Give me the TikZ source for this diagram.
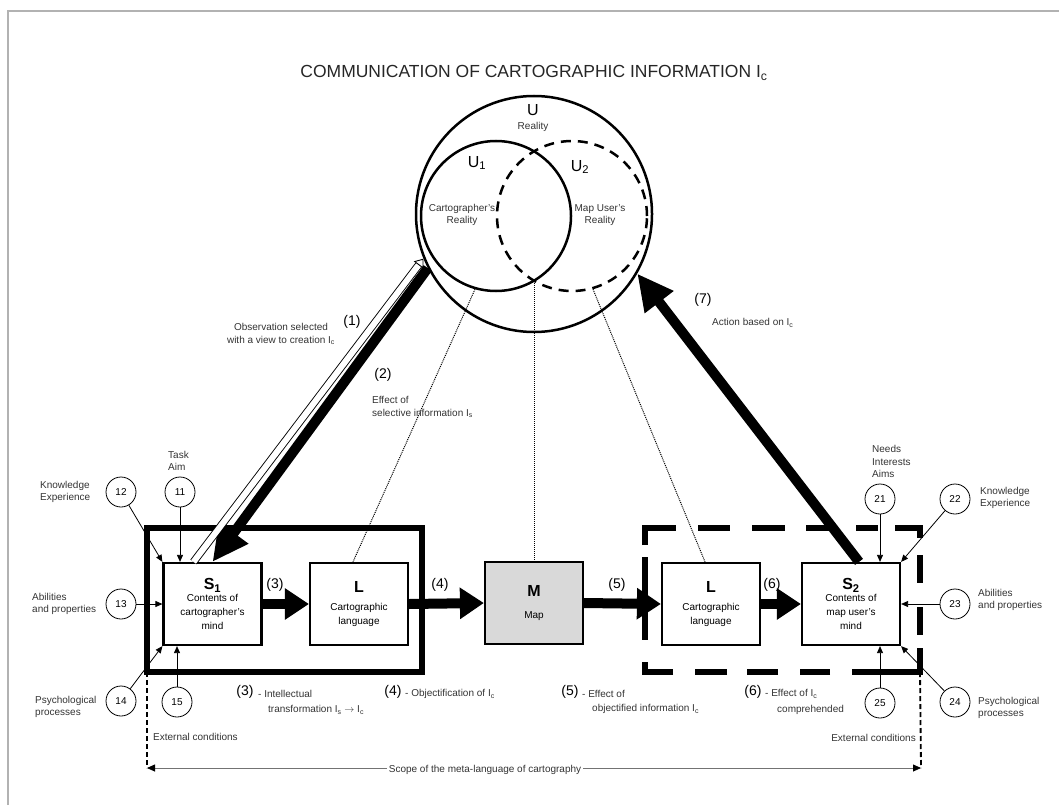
\documentclass[tikz,border=0pt]{standalone}
\usepackage{fontspec}
\setmainfont{Liberation Sans}
\usetikzlibrary{arrows.meta,fit,calc}
\begin{document}
\begin{tikzpicture}[x=1pt,y=-1pt,
  txt/.style={font=\fontsize{10}{12.5}\selectfont, text=black!80, inner sep=0},
  lbl/.style={font=\fontsize{14}{16}\selectfont, inner sep=0},
  box/.style={draw, line width=2.2pt, minimum width=98pt, minimum height=82pt, inner sep=0, align=center, font=\fontsize{10}{14}\selectfont},
  numc/.style={circle, draw, line width=0.8pt, minimum size=30pt, inner sep=0, font=\fontsize{10}{12}\selectfont},
  smallarr/.style={line width=0.8pt, -{Triangle[length=7pt,width=6pt]}},
  thickarr/.style={line width=10pt, -{Triangle[length=24pt,width=30pt]}},
  bigarr/.style={line width=10pt, -{Triangle[length=36pt,width=34pt]}},
  dotline/.style={densely dotted, line width=1pt},
  ring/.style={circle, draw, line width=2.5pt, inner sep=0},
  dseg/.style={line width=6pt}
]
\useasboundingbox (0,0) rectangle (1059,805);
% page frame
\draw[gray!60, line width=2pt] (8,805) -- (8,11) -- (1059,11);

% title
\node[font=\fontsize{17.5}{20}\selectfont, text=black!85] (title) at (534,73) {COMMUNICATION OF CARTOGRAPHIC INFORMATION I\textsubscript{c}};

% reality circles
\node[ring, minimum size=236pt] (U) at (534,214) {};
\node[ring, minimum size=150pt, dash pattern=on 10pt off 7pt] (U2) at (572,216) {};
\node[ring, minimum size=150pt] (U1) at (496,216) {};
\node[font=\fontsize{16}{16}\selectfont] (Ul) at (533,110) {U};
\node[txt] (Ur) at (533,127) {Reality};
\node[font=\fontsize{16}{16}\selectfont] (U1l) at (477,163) {U\textsubscript{1}};
\node[font=\fontsize{16}{16}\selectfont] (U2l) at (580,167) {U\textsubscript{2}};
\node[txt, align=center] (U1t) at (462,215) {Cartographer's\\Reality};
\node[txt, align=center] (U2t) at (600,215) {Map User's\\Reality};
\coordinate (X) at (534,283);

% frames
\node[draw, line width=6pt, inner sep=0, outer sep=0, fit={(147,528) (422,672)}] (F1) {};
\node[inner sep=0, outer sep=0, fit={(645,528) (920,672)}] (F2) {};
\draw[dseg] (645,545) -- (645,528) -- (676,528);
\draw[dseg] (698,528) -- (730,528);
\draw[dseg] (752,528) -- (785,528);
\draw[dseg] (806,528) -- (836,528);
\draw[dseg] (856,528) -- (878,528);
\draw[dseg] (895,528) -- (920,528) -- (920,538);
\draw[dseg] (920,555) -- (920,583);
\draw[dseg] (920,607) -- (920,635);
\draw[dseg] (920,648) -- (920,672) -- (852,672);
\draw[dseg] (830,672) -- (800,672);
\draw[dseg] (778,672) -- (747,672);
\draw[dseg] (727,672) -- (695,672);
\draw[dseg] (673,672) -- (645,672) -- (645,662);
\draw[dseg] (645,557) -- (645,640);

% boxes
\node[box] (S1) at (212.5,604) {{\fontsize{16}{16}\selectfont\bfseries S\textsubscript{1}}\\[-2pt]Contents of\\cartographer's\\mind};
\node[box] (L1) at (359,604) {{\fontsize{16}{16}\selectfont\bfseries L}\\[4pt]Cartographic\\language};
\node[box, fill=gray!30] (M) at (534,603) {{\fontsize{16}{16}\selectfont\bfseries M}\\[8pt]Map};
\node[box] (L2) at (711,604) {{\fontsize{16}{16}\selectfont\bfseries L}\\[4pt]Cartographic\\language};
\node[box] (S2) at (851,604) {{\fontsize{16}{16}\selectfont\bfseries S\textsubscript{2}}\\[-2pt]Contents of\\map user's\\mind};

% dotted projection lines
\draw[dotline] (U1.-106) -- ([xshift=-6pt]L1.north);
\draw[dotline] (X) -- (M.north);
\draw[dotline] (U2.-74) -- ([xshift=-6pt]L2.north);

% main arrows
\draw[thickarr] (S1.east) -- (L1.west);
\draw[thickarr] (L1.east) -- (M.west);
\draw[thickarr] (M.east) -- (L2.west);
\draw[thickarr] (L2.east) -- (S2.west);
\draw[bigarr] (U.207) -- (S1.north);
\draw[bigarr] ([xshift=8pt]S2.north) -- (U.-30);
\draw[line width=0.9pt, double distance=6pt, -{Triangle[length=8pt,width=12pt,open]}] ([xshift=-19pt]S1.north) -- (U.202);

% arrow labels
\node[lbl] (n1) at (352,322) {(1)};
\node[txt, align=center] (t1) at (281,334) {Observation selected\\with a view to creation I\textsubscript{c}};
\node[lbl] (n2) at (383,375) {(2)};
\node[txt, align=left, anchor=west] (t2) at (372,407) {Effect of\\selective information I\textsubscript{s}};
\node[lbl] (n7) at (703,300) {(7)};
\node[txt, anchor=west] (t7) at (712,323) {Action based on I\textsubscript{c}};
\node[lbl] (n3) at (275,585) {(3)};
\node[lbl] (n4) at (440,585) {(4)};
\node[lbl] (n5) at (617,585) {(5)};
\node[lbl] (n6) at (772,585) {(6)};

% bottom explanations
\node[lbl] (b3) at (245,692) {(3)};
\node[txt, anchor=west] (b3a) at (258,694) {- Intellectual};
\node[txt, anchor=west] (b3b) at (268,710) {transformation I\textsubscript{s} $\rightarrow$ I\textsubscript{c}};
\node[lbl] (b4) at (393,692) {(4)};
\node[txt, anchor=west] (b4a) at (405,694) {- Objectification of I\textsubscript{c}};
\node[lbl] (b5) at (570,692) {(5)};
\node[txt, anchor=west] (b5a) at (582,694) {- Effect of};
\node[txt, anchor=west] (b5b) at (592,709) {objectified information I\textsubscript{c}};
\node[lbl] (b6) at (753,692) {(6)};
\node[txt, anchor=west] (b6a) at (765,694) {- Effect of I\textsubscript{c}};
\node[txt, anchor=west] (b6b) at (777,710) {comprehended};

% left factor circles
\node[numc] (c11) at (180,492) {11};
\node[numc] (c12) at (121,492) {12};
\node[numc] (c13) at (121,604) {13};
\node[numc] (c14) at (121,701) {14};
\node[numc] (c15) at (177,702) {15};
\node[txt, align=left, anchor=south west] (t11) at (168,471) {Task\\Aim};
\node[txt, align=left, anchor=west] (t12) at (40,492) {Knowledge\\Experience};
\node[txt, align=left, anchor=west] (t13) at (32,604) {Abilities\\and properties};
\node[txt, align=left, anchor=west] (t14) at (35,707) {Psychological\\processes};
\draw[smallarr] (c11) -- (c11 |- S1.north);
\draw[smallarr] (c12) -- (S1.north west);
\draw[smallarr] (c13) -- (S1.west);
\draw[smallarr] (c14) -- (S1.south west);
\draw[smallarr] (c15) -- (c15 |- S1.south);

% right factor circles
\node[numc] (c21) at (880,499) {21};
\node[numc] (c22) at (955,499) {22};
\node[numc] (c23) at (955,604) {23};
\node[numc] (c24) at (955,702) {24};
\node[numc] (c25) at (880,703) {25};
\node[txt, align=left, anchor=south west] (t21) at (872,478) {Needs\\Interests\\Aims};
\node[txt, align=left, anchor=west] (t22) at (980,498) {Knowledge\\Experience};
\node[txt, align=left, anchor=west] (t23) at (978,600) {Abilities\\and properties};
\node[txt, align=left, anchor=west] (t24) at (978,708) {Psychological\\processes};
\draw[smallarr] (c21) -- (c21 |- S2.north);
\draw[smallarr] (c22) -- (S2.north east);
\draw[smallarr] (c23) -- (S2.east);
\draw[smallarr] (c24) -- (S2.south east);
\draw[smallarr] (c25) -- (c25 |- S2.south);

% external conditions and scope
\coordinate (LB) at (147,768);
\coordinate (RB) at (921,768);
\draw[line width=1.8pt, dash pattern=on 5pt off 3pt] (F1.south west) -- (LB);
\draw[line width=1.8pt, dash pattern=on 5pt off 3pt] (F2.south east) -- (RB);
\node[txt, anchor=west] (e1) at (153,737) {External conditions};
\node[txt, anchor=east] (e2) at (916,738) {External conditions};
\draw[black!55, line width=0.8pt, {Triangle[length=8pt,width=7pt,color=black]}-{Triangle[length=8pt,width=7pt,color=black]}] (LB) -- (RB);
\node[txt, fill=white, inner xsep=2pt] (scope) at (485,770) {Scope of the meta-language of cartography};
\end{tikzpicture}
\end{document}
